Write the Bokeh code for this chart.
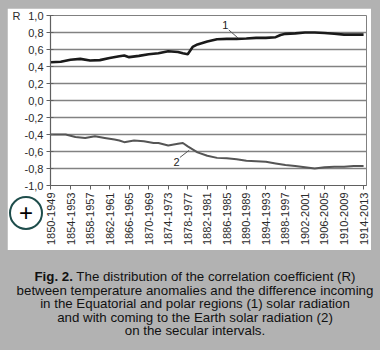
import math
from bokeh.plotting import figure
from bokeh.models import Range1d, FixedTicker, Label, Div
from bokeh.layouts import column
from bokeh.embed import file_html
from bokeh.resources import INLINE

# ---------------- data ----------------
interval_labels = ["1850-1949", "1854-1953", "1858-1957", "1862-1961", "1866-1965",
                   "1870-1969", "1874-1973", "1878-1977", "1882-1981", "1886-1985",
                   "1890-1989", "1894-1993", "1898-1997", "1902-2001", "1906-2005",
                   "1910-2009", "1914-2013"]

years1 = [1850, 1852, 1854, 1856, 1858, 1860, 1862, 1864, 1865, 1866, 1868, 1870,
          1872, 1874, 1876, 1877, 1878, 1879, 1880, 1882, 1884, 1886, 1888, 1890,
          1892, 1894, 1896, 1897, 1898, 1900, 1902, 1904, 1906, 1908, 1910, 1912, 1914]
r1 = [0.45, 0.455, 0.48, 0.49, 0.47, 0.475, 0.50, 0.52, 0.53, 0.51, 0.525, 0.545,
      0.555, 0.58, 0.57, 0.555, 0.545, 0.63, 0.66, 0.695, 0.72, 0.725, 0.725, 0.73,
      0.737, 0.737, 0.745, 0.77, 0.784, 0.79, 0.80, 0.80, 0.795, 0.785, 0.775, 0.775, 0.775]

years2 = [1850, 1852, 1853, 1855, 1857, 1859, 1861, 1863, 1864, 1865, 1867, 1869,
          1871, 1872, 1874, 1876, 1877, 1878, 1880, 1882, 1884, 1886, 1888, 1890,
          1892, 1894, 1896, 1898, 1900, 1902, 1904, 1906, 1908, 1910, 1912, 1914]
r2 = [-0.40, -0.40, -0.40, -0.43, -0.44, -0.42, -0.44, -0.46, -0.47, -0.49, -0.47, -0.48,
      -0.50, -0.50, -0.53, -0.51, -0.50, -0.54, -0.61, -0.65, -0.675, -0.68, -0.69, -0.71,
      -0.715, -0.72, -0.74, -0.76, -0.77, -0.785, -0.80, -0.785, -0.78, -0.78, -0.77, -0.77]

y_ticks = [1.0, 0.8, 0.6, 0.4, 0.2, 0.0, -0.2, -0.4, -0.6, -0.8, -1.0]
y_tick_labels = ["1,0", "0,8", "0,6", "0,4", "0,2", "0,0", "-0,2", "-0,4", "-0,6", "-0,8", "-1,0"]
y_axis_name = "R"

series_names = ["1", "2"]
caption_bold = "Fig. 2."
caption_lines = ["The distribution of the correlation coefficient (R)",
                 "between temperature anomalies and the difference incoming",
                 "in the Equatorial and polar regions (1) solar radiation",
                 "and with coming to the Earth solar radiation (2)",
                 "on the secular intervals."]

# ---------------- styles ----------------
FONT = "Liberation Sans"
GRAY_BG = "#b2b2b2"
x_ticks = [int(s.split("-")[0]) for s in interval_labels]

# the axis name "R" sits just left of the top tick label
y_label_texts = list(y_tick_labels)
y_label_texts[0] = y_axis_name + "\u2002\u2009" + y_tick_labels[0]

p = figure(width=364, height=242, output_backend="svg", toolbar_location=None,
           x_range=Range1d(1849.9, 1914.6), y_range=Range1d(-1.0, 1.0),
           min_border_left=43, min_border_right=5, min_border_top=7, min_border_bottom=65,
           border_fill_color="white", background_fill_color="white",
           outline_line_color="#808080", outline_line_width=1)
p.margin = (8, 9, 0, 7)

p.xgrid.visible = False
p.yaxis.ticker = FixedTicker(ticks=y_ticks)
p.yaxis.major_label_overrides = dict(zip(y_ticks, y_label_texts))
p.ygrid.grid_line_color = "#828282"
p.ygrid.grid_line_width = 1.4

p.xaxis.ticker = FixedTicker(ticks=x_ticks)
p.xaxis.major_label_overrides = dict(zip(x_ticks, interval_labels))
p.xaxis.major_label_orientation = math.pi / 2

for ax in (p.xaxis[0], p.yaxis[0]):
    ax.axis_line_color = "#606060"
    ax.axis_line_width = 1.2
    ax.major_tick_line_color = "#606060"
    ax.minor_tick_line_color = None
    ax.major_label_text_font = FONT
    ax.major_label_text_font_size = "11px"
    ax.major_label_text_color = "#2a2a2a"
    ax.major_label_standoff = 3
p.yaxis.major_tick_out = 4
p.yaxis.major_tick_in = 3
p.xaxis.major_tick_out = 4
p.xaxis.major_tick_in = 0

p.line(years1, r1, line_color="#1a1a1a", line_width=2.6)
p.line(years2, r2, line_color="#555555", line_width=2.0)

# callouts
p.add_layout(Label(x=1885.7, y=0.885, text=series_names[0], text_font=FONT, text_font_size="11px",
                   text_align="center", text_baseline="middle", text_color="#222222"))
p.segment(x0=[1886.4], y0=[0.83], x1=[1888.3], y1=[0.735], line_color="#555555", line_width=1)
p.add_layout(Label(x=1875.7, y=-0.72, text=series_names[1], text_font=FONT, text_font_size="11px",
                   text_align="center", text_baseline="middle", text_color="#222222"))
p.segment(x0=[1876.4], y0=[-0.67], x1=[1878.3], y1=[-0.585], line_color="#555555", line_width=1)

# ---------------- caption (with the circled plus badge placed above it) ----------------
badge = ('<div style="position:absolute;left:4px;top:-59px;width:34px;height:34px;'
         'border:2.5px solid #1e4d4b;border-radius:50%;background:#fff;display:flex;'
         'align-items:center;justify-content:center;font-size:24px;line-height:1;'
         'color:#000;font-family:\'Liberation Sans\',Arial,sans-serif;z-index:10;">+</div>')
cap_html = ('<div style="position:relative;width:380px;height:100px;box-sizing:border-box;'
            'border-bottom:2px solid #000;font-family:\'Liberation Sans\',Arial,sans-serif;'
            'font-size:13.3px;line-height:13.5px;text-align:center;color:#111;padding-top:15px;">'
            + badge +
            f'<b>{caption_bold}</b> ' + '<br>'.join(caption_lines) + '</div>')
cap = Div(text=cap_html, width=380, height=100, styles={"overflow": "visible", "z-index": "10"})

layout = column(p, cap, styles={"background-color": GRAY_BG}, spacing=0)

open("out.html", "w").write(file_html(layout, INLINE))
